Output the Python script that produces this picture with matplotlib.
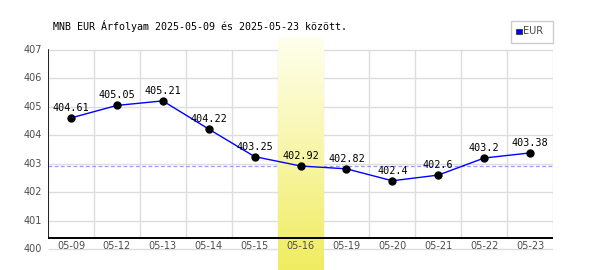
import matplotlib.pyplot as plt
import numpy as np
from matplotlib.patches import Rectangle

# adatok
napok = ['05-09', '05-12', '05-13', '05-14', '05-15', '05-16',
         '05-19', '05-20', '05-21', '05-22', '05-23']
arfolyam = [404.61, 405.05, 405.21, 404.22, 403.25, 402.92,
            402.82, 402.4, 402.6, 403.2, 403.38]
y_tickek = [400, 401, 402, 403, 404, 405, 406, 407]
kiemelt = 5          # 05-16
szaggatott = 402.92

cim = 'MNB EUR Árfolyam 2025-05-09 és 2025-05-23 között.'

fig = plt.figure(figsize=(6, 2.7), dpi=100)
# pixel -> adat: 407 a 50. pixelnel, 400 a 249. pixelnel
ppu = (249 - 50) / 7
ax = fig.add_axes([48 / 600, 0, (553 - 48) / 600, 1])
x = np.arange(len(napok))
ax.axis('off')

also_tengely = 400 + (249 - 238) / ppu
racs = '#dddddd'

# racsvonalak
for v in y_tickek:
    ax.plot([-0.5, 10.5], [v, v], color=racs, lw=1, zorder=1, solid_capstyle='butt')
for k in range(len(napok) + 1):
    ax.plot([k - 0.5, k - 0.5], [also_tengely, 407], color=racs, lw=1, zorder=1)

# szaggatott referencia vonal
ax.plot([-0.5, 10.5], [szaggatott, szaggatott], color='#9999ff', lw=0.9,
        ls=(0, (3, 2)), zorder=2)

# kiemelt nap sarga savja (szinatmenet)
grad = np.linspace(0, 1, 256)[:, None]
top = np.array([255, 255, 238]) / 255
bot = np.array([240, 236, 96]) / 255
img = top + (bot - top) * grad[:, :, None]
img = np.repeat(img, 2, axis=1)
ax.imshow(img, extent=(kiemelt - 0.5, kiemelt + 0.5, 400 - 21 / ppu, 407 + 13 / ppu),
          aspect='auto', origin='upper', zorder=3)

# tengelyek
ax.plot([-0.5, -0.5], [also_tengely, 407], color='black', lw=1.2, zorder=4)
ax.plot([-0.5, 10.5], [also_tengely, also_tengely], color='black', lw=1.4, zorder=4)

# adatsor
ax.plot(x, arfolyam, color='#0000ff', lw=1, zorder=5)
ax.plot(x, arfolyam, 'o', color='black', ms=5, zorder=6)
for xi, v in zip(x, arfolyam):
    ax.annotate(f'{v:g}', (xi, v), xytext=(0, 10), textcoords='offset pixels',
                ha='center', va='center', family='DejaVu Sans Mono', fontsize=7.3,
                color='black', zorder=7)

# tengelyfeliratok
for v in y_tickek:
    ax.annotate(str(v), (-0.5, v), xytext=(-6, 0), textcoords='offset pixels',
                ha='right', va='center', fontsize=7, color='#4d4d4d',
                annotation_clip=False)
for xi, n in zip(x, napok):
    ax.annotate(n, (xi, also_tengely), xytext=(0, -8), textcoords='offset pixels',
                ha='center', va='center', fontsize=7, color='#4d4d4d',
                annotation_clip=False, zorder=8)

ax.set_xlim(-0.5, 10.5)
ax.set_ylim(400 - 21 / ppu, 407 + 50 / ppu)

# cim
fig.text(53 / 600, 1 - 26 / 270, cim, ha='left', va='center',
         family='DejaVu Sans Mono', fontsize=7.2, color='black')

# jelmagyarazat
fig.add_artist(Rectangle((511 / 600, 1 - 43 / 270), 42 / 600, 22 / 270,
                         transform=fig.transFigure, fill=False,
                         edgecolor='#cccccc', lw=1))
fig.add_artist(Rectangle((516 / 600, 1 - 34 / 270), 5.5 / 600, 5.5 / 270,
                         transform=fig.transFigure, facecolor='#0000ff',
                         edgecolor='#333333', lw=0.6))
fig.text(523 / 600, 1 - 31.5 / 270, 'EUR', ha='left', va='center',
         fontsize=7, color='#444444')

fig.savefig('out.png', dpi=100)
